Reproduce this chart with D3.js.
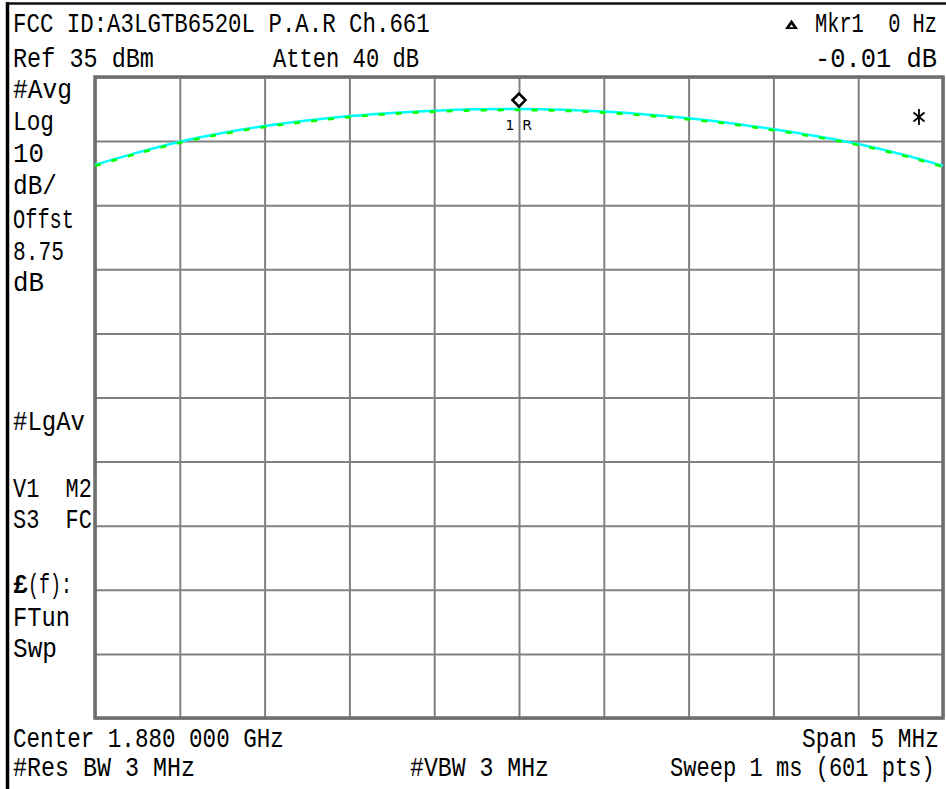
<!DOCTYPE html>
<html>
<head>
<meta charset="utf-8">
<script src="https://cdn.jsdelivr.net/npm/d3@7"></script>
<style>
  html, body { margin: 0; padding: 0; background: #fff; }
  svg { display: block; }
  .t { font-family: "Liberation Mono", "DejaVu Sans Mono", monospace; font-size: 24px; fill: #000; white-space: pre; }
</style>
</head>
<body>
<svg id="chart" width="946" height="789"></svg>
<script>
// ---- data ----
const traceFreqOffsetMHz = [-2.5, -2.25, -2.0, -1.75, -1.5, -1.25, -1.0, -0.75, -0.5, -0.25, 0.0,
                            0.25, 0.5, 0.75, 1.0, 1.25, 1.5, 1.75, 2.0, 2.25, 2.5];
const traceLevelDbm = [21.3, 23.2, 24.9, 26.25, 27.35, 28.2, 28.9, 29.4, 29.75, 29.95, 30.0,
                       29.9, 29.6, 29.15, 28.55, 27.8, 26.85, 25.8, 24.55, 23.0, 21.15];
const xDivisionsMHz = [-2.5, -2.0, -1.5, -1.0, -0.5, 0.0, 0.5, 1.0, 1.5, 2.0, 2.5];
const yDivisionsDbm = [35, 25, 15, 5, -5, -15, -25, -35, -45, -55, -65];
const markerFreqMHz = [0.0];
const markerLevelDbm = [30.0];

const headerLeft = ["FCC ID:A3LGTB6520L P.A.R Ch.661", "Ref 35 dBm"];
const headerMid = ["Atten 40 dB"];
const headerRight = ["Mkr1  0 Hz", "-0.01 dB"];
const sideLabels = ["#Avg", "Log", "10", "dB/", "Offst", "8.75", "dB", "#LgAv", "V1  M2", "S3  FC", "(f):", "FTun", "Swp"];
const footerLabels = ["Center 1.880 000 GHz", "Span 5 MHz", "#Res BW 3 MHz", "#VBW 3 MHz", "Sweep 1 ms (601 pts)"];

// ---- layout ----
const svg = d3.select("#chart");
const plot = { left: 95, right: 943, top: 77, bottom: 718 };
const SY = 1.12;

const x = d3.scaleLinear().domain([-2.5, 2.5]).range([plot.left, plot.right]);
const y = d3.scaleLinear().domain([-65, 35]).range([plot.bottom, plot.top]);

svg.append("rect").attr("width", 946).attr("height", 789).attr("fill", "#fff");

// outer frame (instrument screen border)
svg.append("line").attr("x1", 7.5).attr("x2", 7.5).attr("y1", 2).attr("y2", 789)
  .attr("stroke", "#000").attr("stroke-width", 3.5);
svg.append("line").attr("x1", 6).attr("x2", 946).attr("y1", 3.5).attr("y2", 3.5)
  .attr("stroke", "#111").attr("stroke-width", 2.5);

// grid via axes
const gridColor = "#808080";
const gx = svg.append("g").attr("transform", `translate(0,${plot.bottom})`)
  .call(d3.axisBottom(x).tickValues(xDivisionsMHz).tickSize(-(plot.bottom - plot.top)).tickFormat(""));
gx.select(".domain").remove();
gx.selectAll("line").attr("stroke", gridColor).attr("stroke-width", 2);

const gy = svg.append("g").attr("transform", `translate(${plot.left},0)`)
  .call(d3.axisLeft(y).tickValues(yDivisionsDbm).tickSize(-(plot.right - plot.left)).tickFormat(""));
gy.select(".domain").remove();
gy.selectAll("line").attr("stroke", gridColor).attr("stroke-width", 2);

svg.append("rect")
  .attr("x", plot.left).attr("y", plot.top)
  .attr("width", plot.right - plot.left).attr("height", plot.bottom - plot.top)
  .attr("fill", "none").attr("stroke", "#6e6e6e").attr("stroke-width", 3.5);

// trace
const pts = traceFreqOffsetMHz.map((f, i) => [f, traceLevelDbm[i]]);
const line = d3.line().x(d => x(d[0])).y(d => y(d[1])).curve(d3.curveCatmullRom.alpha(0.5));
svg.append("path").datum(pts).attr("d", line)
  .attr("fill", "none").attr("stroke", "#00ffff").attr("stroke-width", 2.5);
svg.append("path").datum(pts).attr("d", line)
  .attr("transform", "translate(0,1)")
  .attr("fill", "none").attr("stroke", "#00ff00").attr("stroke-width", 2.6)
  .attr("stroke-dasharray", "6,11");

// marker
markerFreqMHz.forEach((f, i) => {
  const mx = x(f), my = y(markerLevelDbm[i]) - 9;
  svg.append("path")
    .attr("d", `M${mx},${my - 6.5} L${mx + 6.5},${my} L${mx},${my + 6.5} L${mx - 6.5},${my} Z`)
    .attr("fill", "#fff").attr("stroke", "#000").attr("stroke-width", 2.6);
  svg.append("text").attr("x", mx - 9).attr("y", y(markerLevelDbm[i]) + 21)
    .attr("font-family", "DejaVu Sans").attr("font-size", 14).attr("text-anchor", "middle").text("1");
  svg.append("text").attr("x", mx + 8).attr("y", y(markerLevelDbm[i]) + 21)
    .attr("font-family", "DejaVu Sans").attr("font-size", 14).attr("text-anchor", "middle").text("R");
});

// asterisk (drawn)
{
  const cx = 919, cy = 117, r = 7;
  const ast = svg.append("g").attr("stroke", "#000").attr("stroke-width", 1.8);
  ast.append("line").attr("x1", cx).attr("x2", cx).attr("y1", cy - r - 1).attr("y2", cy + r + 1);
  ast.append("line").attr("x1", cx - 5.5).attr("x2", cx + 5.5).attr("y1", cy - 4.5).attr("y2", cy + 4.5);
  ast.append("line").attr("x1", cx - 5.5).attr("x2", cx + 5.5).attr("y1", cy + 4.5).attr("y2", cy - 4.5);
}

// text helper: scale the natural text to the measured width, stretch vertically
function txt(s, x0, yb, w, bold) {
  const g = svg.append("g").attr("transform", `translate(${x0},${yb})`);
  const t = g.append("text").attr("class", "t").text(s);
  if (bold) t.attr("font-weight", "bold");
  const nat = t.node().getComputedTextLength();
  t.attr("transform", `scale(${(w / nat).toFixed(4)},${SY})`);
  return t;
}

// header
txt(headerLeft[0], 13, 32, 417);
txt(headerLeft[1], 13, 67, 141);
txt(headerMid[0], 273, 67, 146);
txt(headerRight[0], 815, 32, 122);
txt(headerRight[1], 815, 67, 122);
// delta triangle
svg.append("path").attr("d", "M791.5,19.5 L798,29 L785,29 Z").attr("fill", "#000");
svg.append("path").attr("d", "M791.5,24.5 L793.5,27.3 L789.5,27.3 Z").attr("fill", "#fff");

// side labels
const sideSpec = [
  [98, 59], [130, 41], [162, 31], [194, 44], [228, 61], [260, 51], [291, 31],
  [430, 72], [497, 79], [528, 79], [593, 44], [626, 57], [657, 44]
];
sideLabels.forEach((s, i) => {
  const [yb, w] = sideSpec[i];
  if (s === "(f):") {
    txt("£", 13, yb, 15, true);
    txt(s, 28, yb, w);
  } else {
    txt(s, 13, yb, w);
  }
});

// footer
txt(footerLabels[0], 13, 747, 271);
txt(footerLabels[1], 802, 747, 137);
txt(footerLabels[2], 13, 776, 182);
txt(footerLabels[3], 410, 776, 139);
txt(footerLabels[4], 670, 776, 265);
</script>
</body>
</html>
